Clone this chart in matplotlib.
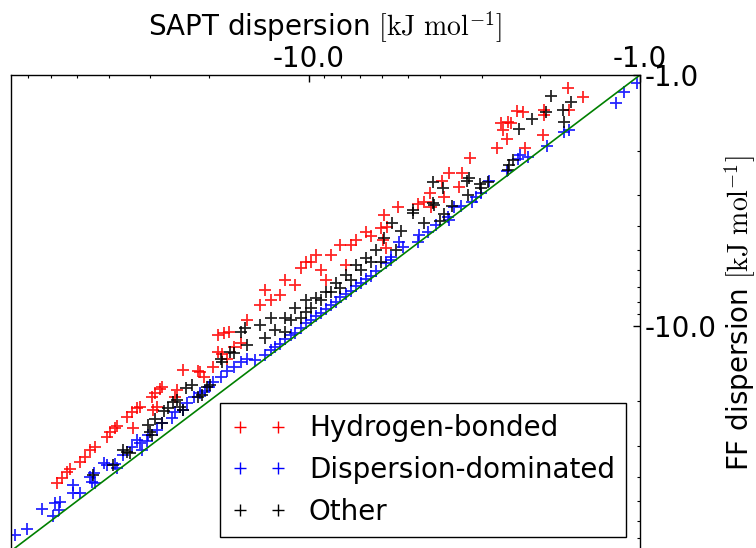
import numpy as np
import matplotlib
matplotlib.use("Agg")
import matplotlib.pyplot as plt
from matplotlib.ticker import FixedLocator, FuncFormatter, NullFormatter
from matplotlib.lines import Line2D

plt.rcParams['font.family'] = ['DejaVu Sans']
plt.rcParams['mathtext.fontset'] = 'cm'

# SAPT vs FF dispersion energies (kJ/mol)
hb_sapt = [-57.3, -55.4, -53.5, -52.3, -48.8, -47.2, -45.6, -44.0, -40.5, -39.6, -38.3, -37.8,
           -35.2, -34.0, -32.9, -32.2, -33.8, -29.6, -29.0, -28.1, -27.6, -29.4, -28.6, -24.9,
           -25.2, -23.9, -21.6, -21.2, -20.7, -19.4, -18.8, -18.7, -18.0, -17.4, -18.2, -17.6,
           -16.8, -16.0, -15.3,
           -13.97, -13.02, -12.15, -10.95, -10.57, -9.86, -9.20, -8.58, -8.01, -7.21, -6.73,
           -6.06, -7.73, -8.88, -13.49, -11.74, -10.21, -9.52, -7.47, -6.50,
           -1.65, -1.487, -1.639, -1.95, -1.95, -2.35, -2.26, -2.63, -2.59, -2.50, -2.45, -2.52,
           -1.96, -2.23, -2.70, -3.26, -3.78, -3.96, -3.45, -3.52, -3.91, -4.31, -4.69, -4.49,
           -4.28, -5.38, -5.93, -5.81, -5.97, -5.85]
hb_ff = [-42.2, -40.3, -38.1, -37.2, -34.8, -33.2, -31.2, -30.3, -27.7, -26.6, -25.5, -25.0,
         -23.0, -22.1, -21.2, -21.0, -25.5, -19.2, -18.5, -17.9, -17.5, -21.6, -21.0, -18.0,
         -19.2, -14.95, -15.1, -15.25, -16.0, -14.6, -12.7, -10.9, -10.7, -10.6, -13.0, -13.6,
         -12.1, -11.7, -9.46,
         -8.25, -7.88, -7.52, -6.87, -5.87, -5.56, -5.98, -5.21, -4.76, -4.54, -4.22,
         -4.07, -5.71, -6.56, -7.19, -6.56, -5.56, -5.21, -4.76, -4.38,
         -1.127, -1.224, -1.379, -1.379, -1.443, -1.391, -1.404, -1.553, -1.656, -1.539, -1.553, -1.80,
         -1.734, -1.954, -1.954, -2.14, -2.46, -2.64, -2.46, -2.79, -3.06, -2.95, -3.27, -3.21,
         -3.36, -3.36, -3.61, -4.03, -4.54, -4.89]

dd_sapt = [-76.8, -70.6, -63.6, -58.9, -58.1, -56.1, -56.5, -51.3, -51.3, -48.8, -45.6, -44.9,
           -44.3, -44.0, -41.3, -40.5, -38.3, -37.8, -36.2, -34.0, -32.9, -31.7, -32.2, -30.8,
           -30.4, -28.6, -27.6, -25.8, -25.2, -24.0, -23.2, -22.2, -21.2, -20.5, -20.0, -19.4,
           -18.4, -17.6, -16.8, -16.0, -15.3,
           -1.02, -1.118, -1.18, -1.639, -1.697, -1.91, -2.18, -2.30, -2.34, -2.52, -2.86, -3.02,
           -3.13, -3.22, -3.47, -3.65, -3.80, -3.78, -4.13, -4.37, -4.65, -4.69, -5.35, -5.20,
           -5.65,
           -14.46, -13.02, -12.15, -11.33, -10.57, -9.86, -9.20, -8.58, -7.73, -7.21, -6.73,
           -6.28, -5.85, -13.49, -10.95, -9.52, -8.01, -7.47,
           -12.58, -11.74, -10.21, -8.88, -8.29, -6.96, -6.50, -5.65]
dd_ff = [-68.0, -64.4, -53.6, -57.2, -50.7, -50.3, -54.1, -43.0, -46.3, -46.3, -40.0, -41.8,
         -38.5, -42.2, -35.1, -35.8, -35.5, -36.8, -32.6, -30.3, -28.4, -31.2, -29.2, -28.9,
         -27.2, -26.0, -24.3, -23.2, -22.1, -21.6, -20.3, -19.3, -18.6, -18.2, -17.5, -16.7,
         -16.0, -15.2, -14.6, -14.0, -13.6,
         -1.076, -1.169, -1.293, -1.656, -1.687, -1.918, -2.12, -2.08, -2.16, -2.41, -2.64, -2.95,
         -3.06, -3.21, -3.33, -3.36, -3.68, -3.78, -3.96, -4.22, -4.34, -4.63, -4.63, -4.85,
         -5.31,
         -13.66, -12.46, -11.80, -10.86, -10.18, -9.46, -8.88, -8.25, -7.46, -6.93, -6.50,
         -6.04, -5.61, -13.05, -10.66, -9.12, -7.66, -7.25,
         -12.13, -11.27, -9.73, -8.56, -8.02, -6.74, -6.32, -5.46]

ot_sapt = [-44.6, -38.8, -36.2, -35.2, -34.5, -30.6, -30.0, -29.6, -29.0, -27.6, -27.2, -26.6,
           -25.6, -24.9, -24.4, -24.0, -23.5, -22.4, -21.6, -20.9, -20.2, -19.8, -18.4, -18.2,
           -17.2, -16.8, -16.0, -15.5, -15.3,
           -13.97, -13.02, -11.74, -10.95, -10.21, -9.52, -8.88, -8.29, -7.73, -7.21, -6.73,
           -6.28, -11.74, -10.57, -9.86, -9.20, -8.58, -7.47, -6.96, -6.50,
           -13.49, -12.58, -11.33, -10.21, -8.01, -6.06, -5.46,
           -1.857, -1.616, -1.708, -1.923, -1.697, -2.12, -2.32, -2.42, -2.49, -2.50, -3.29, -3.33,
           -4.22, -3.94, -3.04, -2.88, -3.02, -3.31, -4.22, -4.19, -4.85, -4.85, -3.70, -3.91,
           -4.02, -4.49, -5.61, -5.27, -5.93]
ot_ff = [-39.2, -35.8, -31.2, -31.8, -32.1, -24.8, -26.4, -27.2, -23.6, -24.3, -21.9, -21.2,
         -20.1, -19.7, -21.0, -21.6, -17.7, -17.2, -19.2, -18.8, -17.5, -17.2, -13.6, -14.0,
         -12.7, -12.8, -10.6, -10.2, -11.9,
         -9.91, -9.29, -9.29, -8.48, -7.88, -7.73, -7.32, -6.74, -6.26, -5.71, -5.36,
         -4.98, -10.57, -9.29, -8.48, -7.88, -7.32, -6.56, -5.98, -5.56,
         -11.16, -10.37, -9.46, -8.79, -7.06, -5.56, -4.98,
         -1.212, -1.281, -1.379, -1.404, -1.539, -1.497, -1.641, -2.18, -2.28, -2.39, -2.57, -2.64,
         -2.67, -2.82, -2.72, -2.67, -2.82, -3.01, -3.24, -3.30, -3.45, -3.55, -3.33, -3.58,
         -3.82, -3.89, -3.89, -4.18, -4.46]

series = [("Hydrogen-bonded", hb_sapt, hb_ff, "r"),
          ("Dispersion-dominated", dd_sapt, dd_ff, "b"),
          ("Other", ot_sapt, ot_ff, "k")]

diag = [1.0, 80.0]
lim_big, lim_small = 79.0, 1.0

fig = plt.figure(figsize=(7.56, 5.48), dpi=100)
ax = fig.add_axes([11 / 756, -3 / 548, 629 / 756, 476 / 548])

for name, xs, ys, c in series:
    ax.plot(np.abs(xs), np.abs(ys), linestyle="none", marker="+", color=c,
            markersize=8, markeredgewidth=1.3, alpha=0.85)

ax.plot(diag, diag, color=(0, 0.5, 0), lw=1.2)

ax.set_xscale("log")
ax.set_yscale("log")
ax.set_xlim(lim_big, lim_small)
ax.set_ylim(lim_big, lim_small)

fmt = FuncFormatter(lambda v, p: "-%.1f" % v)
for axis in (ax.xaxis, ax.yaxis):
    axis.set_major_locator(FixedLocator([1.0, 10.0, 100.0]))
    axis.set_minor_locator(FixedLocator([m * d for d in (1, 10) for m in range(2, 10)]))
    axis.set_major_formatter(fmt)
    axis.set_minor_formatter(NullFormatter())

ax.xaxis.tick_top()
ax.yaxis.tick_right()
ax.xaxis.set_label_position("top")
ax.yaxis.set_label_position("right")
ax.tick_params(which="both", direction="in", labelsize=20)
ax.tick_params(axis="x", which="both", pad=1.5)
ax.tick_params(axis="y", which="both", pad=3.5)
ax.tick_params(which="major", length=5, width=1)
ax.tick_params(which="minor", length=2.5, width=0.8)

ax.set_xlabel(r"SAPT dispersion $[\mathrm{kJ\ mol}^{-1}]$", fontsize=20, labelpad=6)
ax.set_ylabel(r"FF dispersion $[\mathrm{kJ\ mol}^{-1}]$", fontsize=20, labelpad=4)

for s in ax.spines.values():
    s.set_linewidth(1.0)
    s.set_color("black")

handles = [Line2D([], [], linestyle="none", marker="+", color=c, markersize=8,
                  markeredgewidth=1.0) for _, _, _, c in series]
leg = ax.legend(handles, [n for n, _, _, _ in series], loc="lower right", numpoints=2,
                fontsize=20, fancybox=False, framealpha=1, borderpad=0.4,
                labelspacing=0.5, handlelength=2.0, handletextpad=0.8, borderaxespad=0.5)
leg.get_frame().set_edgecolor("black")
leg.get_frame().set_linewidth(1.0)

fig.savefig("out.png", dpi=100)
